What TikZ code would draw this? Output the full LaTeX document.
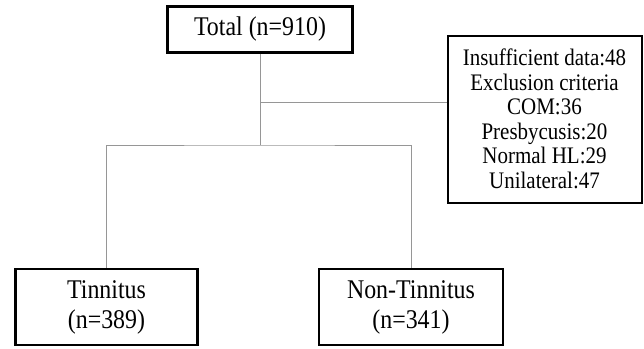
\documentclass[tikz,border=0pt]{standalone}
\usepackage{fontspec}
\setmainfont[FakeStretch=0.885]{Liberation Serif}
\usepackage{tikz}
\usetikzlibrary{positioning, calc}
\definecolor{fcLine}{RGB}{150, 150, 150}
\tikzset{
    box/.style={
        rectangle,
        draw=black,
        line width=2.5pt,
        fill=white,
        align=center,
        inner sep=0pt
    },
    bigbox/.style={
        box,
        font=\fontsize{27}{30}\selectfont
    },
    notebox/.style={
        box,
        line width=2pt,
        font=\fontsize{23.7}{24.5}\selectfont
    },
    link/.style={
        draw=fcLine,
        line width=0.9pt
    }
}

\begin{document}
\begin{tikzpicture}[x=1pt, y=-1pt]
    \useasboundingbox (0,0) rectangle (644,348);

    % Boxes
    \node[bigbox, minimum width=185pt, minimum height=46pt] (total) at (260, 29.5) {Total (n=910)};
    \node[notebox, minimum width=194pt, minimum height=167pt] (excl) at (544.5, 119) {Insufficient data:48\\ Exclusion criteria\\ COM:36\\ Presbycusis:20\\ Normal HL:29\\ Unilateral:47};
    \node[bigbox, minimum width=182pt, minimum height=76pt] (tinn) at (106.5, 307) {Tinnitus\\ (n=389)};
    \node[bigbox, minimum width=184pt, minimum height=76pt] (nontinn) at (411, 307) {Non-Tinnitus\\ (n=341)};

    % Connectors
    \coordinate (side) at (260, 102);
    \coordinate (fork) at (260, 145);
    \draw[link] (total.south) -- (fork);
    \draw[link] (side) -- (side -| excl.west);
    \draw[link] (tinn.north) |- (fork) -| (nontinn.north);

\end{tikzpicture}
\end{document}
